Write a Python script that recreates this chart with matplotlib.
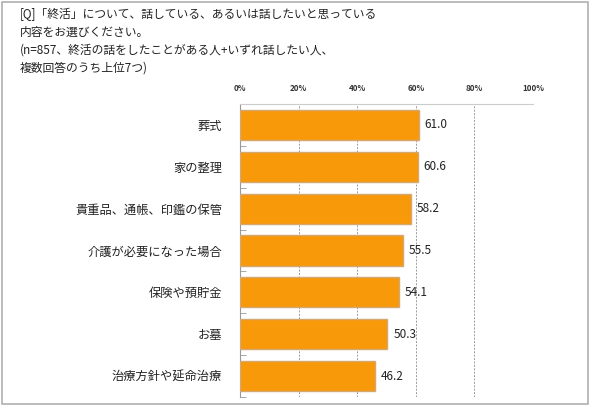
import matplotlib
matplotlib.use("Agg")
import matplotlib.pyplot as plt
from matplotlib.patches import Rectangle

plt.rcParams['font.family'] = ['Noto Sans CJK JP', 'DejaVu Sans']

categories = ["葬式", "家の整理", "貴重品、通帳、印鑑の保管", "介護が必要になった場合",
              "保険や預貯金", "お墓", "治療方針や延命治療"]
values = [61.0, 60.6, 58.2, 55.5, 54.1, 50.3, 46.2]
xticks = [0, 20, 40, 60, 80, 100]
xtick_labels = ["0%", "20%", "40%", "60%", "80%", "100%"]
title_lines = ["[Q]「終活」について、話している、あるいは話したいと思っている",
               "内容をお選びください。",
               "(n=857、終活の話をしたことがある人+いずれ話したい人、",
               "複数回答のうち上位7つ)"]

W, H = 591, 415
fig = plt.figure(figsize=(W/100, H/100), dpi=100)
fig.patch.set_facecolor("white")

# outer frame
fig.add_artist(Rectangle((2/W, 1 - 404/H), (588-2)/W, (404-2)/H, transform=fig.transFigure,
                         fill=False, edgecolor="#b0b0b0", linewidth=1.2))

for i, line in enumerate(title_lines):
    fig.text(20/W, 1 - (14 + 18*i)/H, line, fontsize=8.5, va="center", ha="left", color="#222222")

ax = fig.add_axes([240/W, 1 - 397/H, (533-240)/W, (397-104)/H])
n = len(categories)
ys = list(range(n))
ax.barh(ys, values, height=0.72, color="#F8990A", edgecolor="#D4A870", linewidth=1.0, zorder=3)
for y, v in zip(ys, values):
    ax.text(v + 2, y, f"{v:.1f}", va="center", ha="left", fontsize=8.5, color="#222222")

ax.set_xlim(0, 100)
ax.set_ylim(n - 0.5, -0.5)
ax.xaxis.tick_top()
ax.set_xticks(xticks)
ax.set_xticklabels(xtick_labels, fontsize=5.8, fontweight="bold", color="#333333")
ax.tick_params(axis="x", length=0, pad=8)
ax.set_yticks(ys)
ax.set_yticklabels(categories, fontsize=8.8, color="#222222")
ax.tick_params(axis="y", length=0, pad=13)
ax.set_yticks([i + 0.5 for i in range(-1, n)], minor=True)
ax.tick_params(axis="y", which="minor", direction="in", length=4, color="#999999")
for x in xticks[1:]:
    ax.axvline(x, color="#9a9a9a", linestyle=(0, (2, 1.5)), linewidth=0.7, zorder=1)
for s in ["right", "bottom"]:
    ax.spines[s].set_visible(False)
ax.spines["left"].set_color("#999999")
ax.spines["top"].set_color("#cccccc")

fig.savefig("out.png", dpi=100)
